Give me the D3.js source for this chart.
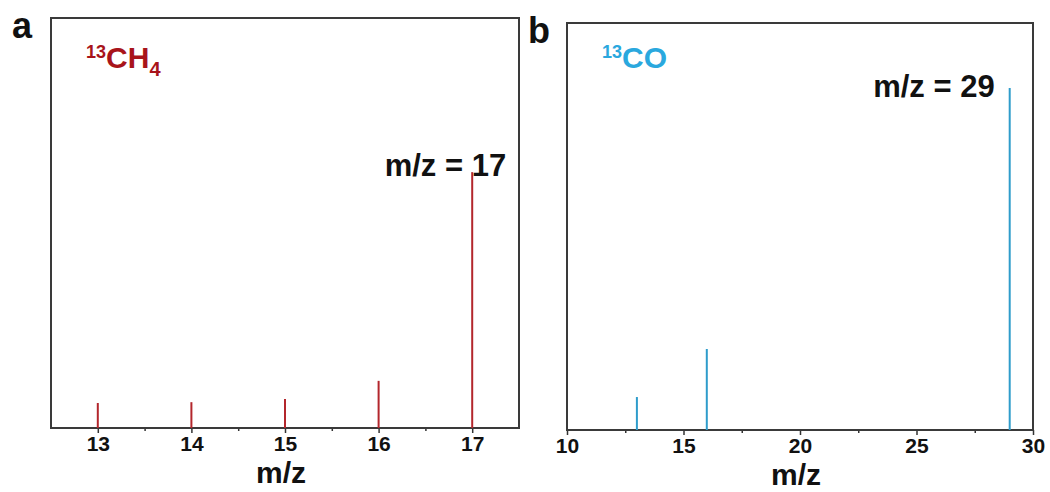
<!DOCTYPE html>
<html lang="en">
  <head>
    <title>13C mass spectra</title>
    <style>
      body { margin: 0; padding: 0; background: #fff; }
      svg { display: block; font-family: Arial, "Liberation Sans", sans-serif; }
    </style>
  </head>
  <body>
    <div id="chart"></div>
    <script src="https://d3js.org/d3.v7.min.js"></script>
    <script>

    // panel a: 13CH4
    var mzA = [13, 14, 15, 16, 17];
    var intensityA = [6.1, 6.3, 7.1, 11.5, 62.4];
    var ticksA = [13, 14, 15, 16, 17];

    // panel b: 13CO
    var mzB = [13, 16, 29];
    var intensityB = [8.1, 19.9, 84.0];
    var ticksB = [10, 15, 20, 25, 30];

    var width = 1050;
    var height = 492;

    var svg = d3.select('#chart')
      .append('svg')
      .attr('width', width)
      .attr('height', height);

    var drawPanel = function(opt) {
      var x = d3.scaleLinear().domain(opt.xDomain).range([opt.left, opt.right]);
      var y = d3.scaleLinear().domain([0, 100]).range([opt.bottom, opt.top]);
      var g = svg.append('g');

      // minor ticks
      g.append('g')
        .attr('transform', 'translate(0,' + opt.bottom + ')')
        .call(d3.axisBottom(x).tickValues(opt.minor).tickSize(3).tickFormat(''))
        .call(function(s) { s.select('.domain').remove(); })
        .selectAll('line').attr('stroke', '#333').attr('stroke-width', 1.5);

      // major ticks + labels
      var ax = g.append('g')
        .attr('transform', 'translate(0,' + opt.bottom + ')')
        .call(d3.axisBottom(x).tickValues(opt.ticks).tickSize(5).tickPadding(3).tickFormat(d3.format('d')));
      ax.select('.domain').remove();
      ax.selectAll('line').attr('stroke', '#333').attr('stroke-width', 1.5);
      ax.selectAll('text')
        .attr('fill', '#111')
        .style('font-size', '21px')
        .style('font-weight', 'bold')
        .style('font-family', 'Arial, "Liberation Sans", sans-serif');

      // frame
      g.append('rect')
        .attr('x', opt.left)
        .attr('y', opt.top)
        .attr('width', opt.right - opt.left)
        .attr('height', opt.bottom - opt.top)
        .attr('fill', 'none')
        .attr('stroke', '#3a3a3a')
        .attr('stroke-width', 2);

      // peaks
      g.selectAll('line.peak')
        .data(opt.mz)
        .enter()
        .append('line')
        .attr('class', 'peak')
        .attr('x1', function(d) { return x(d); })
        .attr('x2', function(d) { return x(d); })
        .attr('y1', y(0))
        .attr('y2', function(d, i) { return y(opt.values[i]); })
        .attr('stroke', opt.barColor)
        .attr('stroke-width', 2);

      // x title
      g.append('text')
        .attr('x', (opt.left + opt.right) / 2 - 4)
        .attr('y', opt.bottom + 55)
        .attr('text-anchor', 'middle')
        .style('font-size', '30px')
        .style('font-weight', 'bold')
        .attr('fill', '#111')
        .text('m/z');

      // panel letter
      g.append('text')
        .attr('x', opt.left - 39)
        .attr('y', opt.top + 20)
        .style('font-size', '36px')
        .style('font-weight', 'bold')
        .attr('fill', '#111')
        .text(opt.letter);

      // species label
      var sp = g.append('text')
        .attr('x', opt.left + 35)
        .attr('y', 68)
        .style('font-weight', 'bold')
        .attr('fill', opt.textColor);
      sp.append('tspan').style('font-size', '18px').attr('dy', -10).text('13');
      sp.append('tspan').style('font-size', '30px').attr('dy', 10).text(opt.species);
      if (opt.sub) {
        sp.append('tspan').style('font-size', '20px').attr('dy', 8).text(opt.sub);
      }

      // peak annotation
      var last = opt.mz.length - 1;
      g.append('text')
        .attr('x', x(opt.mz[last]) + opt.noteDx)
        .attr('y', y(opt.values[last]) + opt.noteDy)
        .attr('text-anchor', 'end')
        .style('font-size', '31px')
        .style('font-weight', 'bold')
        .attr('fill', '#111')
        .text('m/z = ' + opt.mz[last]);
    };

    drawPanel({
      letter: 'a', species: 'CH', sub: '4',
      mz: mzA, values: intensityA, ticks: ticksA,
      minor: [13.5, 14.5, 15.5, 16.5],
      xDomain: [12.5, 17.5],
      left: 51, right: 519, top: 18, bottom: 428,
      barColor: '#b3262c', textColor: '#a8141b',
      noteDx: 34, noteDy: 4
    });

    drawPanel({
      letter: 'b', species: 'CO', sub: null,
      mz: mzB, values: intensityB, ticks: ticksB,
      minor: [12.5, 17.5, 22.5, 27.5],
      xDomain: [10, 30],
      left: 567, right: 1033, top: 23, bottom: 430,
      barColor: '#2e9ccb', textColor: '#2aa8de',
      noteDx: -15, noteDy: 9
    });

    </script>
  </body>
</html>
